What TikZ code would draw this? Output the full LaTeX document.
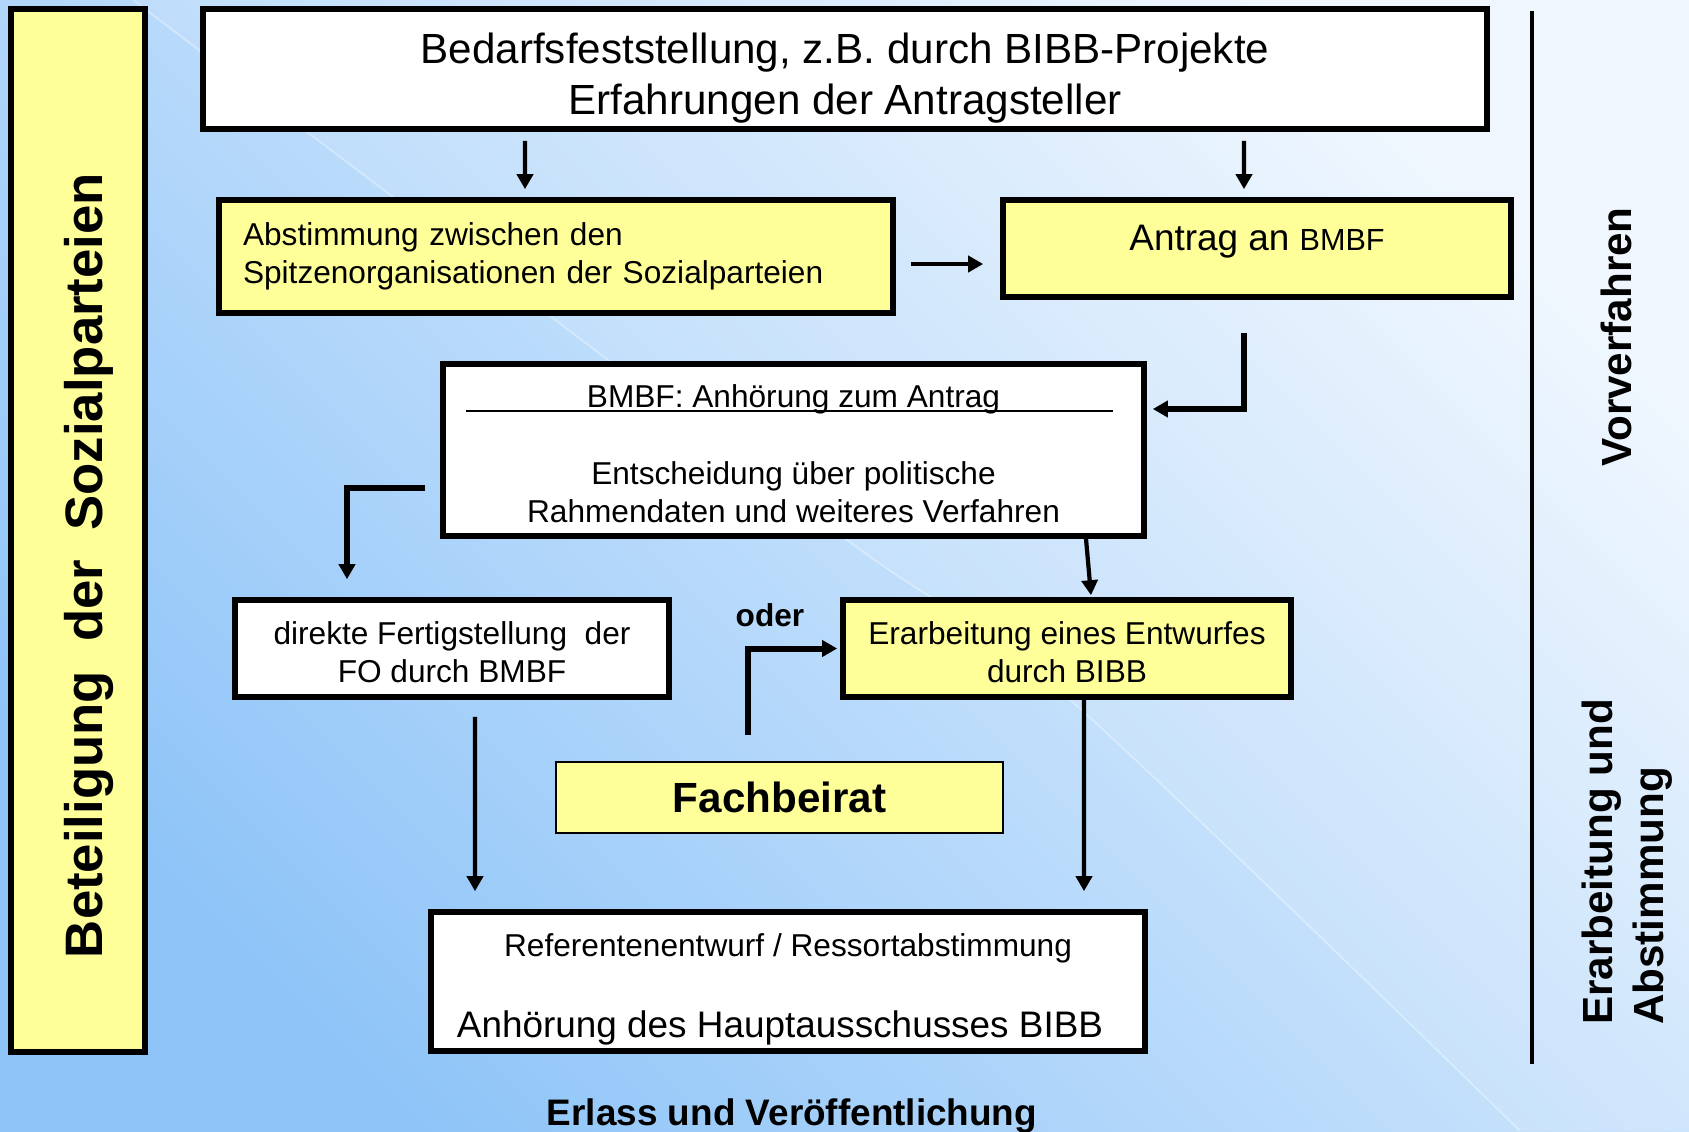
\documentclass[tikz,border=0pt]{standalone}
\usepackage{fontspec}
\setmainfont{Liberation Sans}
\usepackage{tikz}
\usetikzlibrary{shapes,arrows,arrows.meta,calc,shadings}
\usetikzlibrary{positioning}
\definecolor{clrYellow}{HTML}{FFFF99}
\definecolor{clrBgDark}{HTML}{8EC4F8}
\definecolor{clrBgMid}{HTML}{BFE0FA}
\definecolor{clrBgLight}{HTML}{EEF6FE}
\tikzstyle{box_style0}=[draw, line width=1.6pt, anchor=center, text centered, inner sep=0pt, text=black]
\tikzstyle{box_white}=[box_style0, fill=white]
\tikzstyle{box_yellow}=[box_style0, fill=clrYellow]
\tikzstyle{myarrow}=[-{Triangle[length=1.5mm,width=1.6mm]}, line width=1.2pt]
\tikzstyle{myelbow}=[myarrow, line width=1.7pt]
\tikzstyle{txt9}=[font=\fontsize{9}{10.8}\selectfont]
\tikzstyle{side_label}=[rotate=90, font=\fontsize{12}{14.7}\selectfont\bfseries, align=left]

\begin{document}
\begin{tikzpicture}
		\useasboundingbox (0,0) rectangle (16.89,-11.31);
		\shade[shading=axis, bottom color=clrBgDark, middle color=clrBgMid, top color=clrBgLight, shading angle=-45] (0,0) rectangle (16.89,-11.31);
		% lighter panel and streak of the background
		\fill[white, opacity=0.1] plot[smooth] coordinates {(1.33,0) (3.93,-1.97) (8.47,-5.40) (10.67,-6.97) (15.2,-11.31)} -- (16.89,-11.31) -- (16.89,0) -- cycle;
		\draw[white, opacity=0.35, line width=0.5pt] plot[smooth] coordinates {(1.33,0) (3.93,-1.97) (8.47,-5.40) (10.67,-6.97) (15.2,-11.31)};

		\node[box_yellow, rotate=90, minimum width=10.43cm, minimum height=1.34cm, text height=0.6cm, font=\fontsize{15}{18}\selectfont\bfseries] (L) at (0.78,-5.305) {Beteiligung\ \ der\ \ Sozialparteien\kern0.7cm};

		\node[box_white, minimum width=12.84cm, minimum height=1.2cm, font=\fontsize{12}{14.7}\selectfont, align=center] (A) at (8.45,-0.69) {\rule{0pt}{0.49cm}Bedarfsfeststellung, z.B. durch BIBB-Projekte\\Erfahrungen der Antragsteller};

		\node[box_yellow, minimum width=6.74cm, minimum height=1.13cm, txt9, text width=6.26cm, align=left] (B) at (5.56,-2.565) {Abstimmung zwischen den\\Spitzenorganisationen der Sozialparteien};
		\draw[myarrow] ([xshift=-3.20cm,yshift=-0.09cm]A.south) -- ([xshift=-0.31cm,yshift=0.08cm]B.north);

		\node[box_yellow, minimum width=5.08cm, minimum height=0.97cm, text depth=0.21cm, font=\fontsize{10.5}{12.6}\selectfont] (C) at (12.57,-2.485) {Antrag an {\fontsize{8.7}{10}\selectfont BMBF}};
		\draw[myarrow] ([xshift=3.99cm,yshift=-0.09cm]A.south) -- ([xshift=-0.13cm,yshift=0.08cm]C.north);
		\draw[myarrow] ([xshift=0.15cm,yshift=-0.075cm]B.east) -- ([xshift=-0.17cm,yshift=-0.155cm]C.west);

		\node[box_white, minimum width=7.01cm, minimum height=1.72cm, txt9, align=center] (D) at (7.935,-4.50) {\rule{0pt}{0.31cm}BMBF: Anhörung zum Antrag\\[0.39cm]Entscheidung über politische\\Rahmendaten und weiteres Verfahren};
		\draw[line width=0.6pt] ($(D.north west)+(0.26,-0.495)$) -- ($(D.north east)+(-0.34,-0.495)$); % rule under the title
		\draw[myelbow] ([xshift=-0.13cm,yshift=-0.33cm]C.south) |- ([xshift=0.06cm,yshift=0.41cm]D.east);

		\node[box_white, minimum width=4.34cm, minimum height=0.97cm, txt9, align=center] (E) at (4.52,-6.485) {\rule{0pt}{0.31cm}direkte Fertigstellung\ \ der\\FO durch BMBF};
		\draw[myelbow] ([xshift=-0.15cm,yshift=-0.38cm]D.west) -| ([xshift=-1.05cm,yshift=0.18cm]E.north);

		\node[box_yellow, minimum width=4.48cm, minimum height=0.97cm, txt9, align=center] (F) at (10.67,-6.485) {\rule{0pt}{0.31cm}Erarbeitung eines Entwurfes\\durch BIBB};
		\draw[myarrow] ([xshift=2.925cm]D.south) -- ([xshift=0.24cm,yshift=0.02cm]F.north);

		\node[font=\fontsize{9}{10.8}\selectfont\bfseries] (O) at (7.70,-6.15) {oder};

		\node[box_yellow, line width=0.5pt, minimum width=4.47cm, minimum height=0.71cm, font=\fontsize{12}{14}\selectfont\bfseries] (G) at (7.795,-7.975) {Fachbeirat};
		\draw[myelbow] ([xshift=-0.315cm,yshift=0.26cm]G.north) |- ([xshift=-0.03cm]F.west);

		\node[box_white, minimum width=7.14cm, minimum height=1.39cm, txt9, align=center] (H) at (7.88,-9.815) {\rule{0pt}{0.38cm}Referentenentwurf / Ressortabstimmung\\[0.43cm]{\fontsize{10.5}{12.6}\selectfont Anhörung des Hauptausschusses BIBB\kern0.16cm}};
		\draw[myarrow] ([xshift=0.23cm,yshift=-0.17cm]E.south) -- ([xshift=-3.13cm,yshift=0.18cm]H.north);
		\draw[myarrow] ([xshift=0.17cm]F.south) -- ([xshift=2.96cm,yshift=0.18cm]H.north);

		\node[font=\fontsize{10.5}{12.6}\selectfont\bfseries] (I) at (7.92,-11.164) {Erlass und Veröffentlichung};

		\draw[line width=1.3pt] (15.32,-0.11) -- (15.32,-10.64);
		\node[side_label] (V) at (16.16,-3.37) {Vorverfahren};
		\node[side_label] (W) at (16.27,-8.62) {Erarbeitung und\\Abstimmung};

	\end{tikzpicture}
\end{document}
